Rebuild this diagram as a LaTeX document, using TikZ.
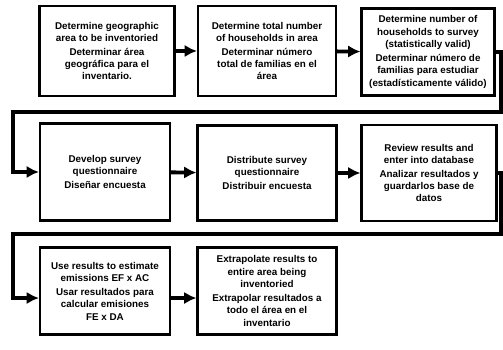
\documentclass[tikz,border=0pt]{standalone}
\usepackage{fontspec}
\setmainfont{Liberation Sans}
\usetikzlibrary{arrows.meta}
\tikzset{
  stepbox/.style={draw, line width=1.2pt, align=center, inner sep=2pt,
    font=\fontsize{5.6}{7}\selectfont\bfseries},
  flow/.style={line width=2.2pt, -{Latex[length=7pt,width=7pt]}},
}
\begin{document}
\begin{tikzpicture}[x=0.02cm,y=-0.02cm]
		\useasboundingbox (0,0) rectangle (503,350);
		% first row
		\node[stepbox, minimum width=2.7cm, minimum height=1.8cm] (area) at (107,51)
			{Determine geographic\\area to be inventoried\\[1pt]Determinar área\\geográfica para el\\inventario.};
		\node[stepbox, minimum width=2.76cm, minimum height=1.8cm] (total) at (267,51)
			{Determine total number\\of households in area\\[1pt]Determinar número\\total de familias en el\\área};
		\node[stepbox, minimum width=2.66cm, minimum height=1.74cm] (sample) at (428,52)
			{Determine number of\\households to survey\\(statistically valid)\\[1pt]Determinar número de\\familias para estudiar\\(estadísticamente válido)};
		% second row
		\node[stepbox, minimum width=2.6cm, minimum height=1.94cm] (design) at (105,172)
			{Develop survey\\questionnaire\\[1pt]Diseñar encuesta};
		\node[stepbox, minimum width=2.78cm, minimum height=1.9cm] (send) at (267,173)
			{Distribute survey\\questionnaire\\[1pt]Distribuir encuesta};
		\node[stepbox, minimum width=2.7cm, minimum height=1.92cm] (review) at (429,173)
			{Review results and\\enter into database\\[1pt]Analizar resultados y\\guardarlos base de\\datos};
		% third row
		\node[stepbox, minimum width=2.6cm, minimum height=1.74cm] (estimate) at (105,291)
			{Use results to estimate\\emissions EF x AC\\[1pt]Usar resultados para\\calcular emisiones\\FE x DA};
		\node[stepbox, minimum width=2.78cm, minimum height=1.74cm] (extra) at (267,291)
			{Extrapolate results to\\entire area being\\inventoried\\[1pt]Extrapolar resultados a\\todo el área en el\\inventario};
		% turn points
		\coordinate (r1) at (501,112);
		\coordinate (l1) at (13,112);
		\coordinate (r2) at (501,234);
		\coordinate (l2) at (13,234);
		% connectors
		\draw[flow] (area) -- (total);
		\draw[flow] (total) -- (sample);
		\draw[flow] (sample.east) -| (r1) -- (l1) |- (design.west);
		\draw[flow] (design) -- (send);
		\draw[flow] (send) -- (review);
		\draw[flow] (review.east) -| (r2) -- (l2) |- ([yshift=-4]estimate.west);
		\draw[flow] ([yshift=-4]estimate.east) -- ([yshift=-4]extra.west);
	\end{tikzpicture}
\end{document}
